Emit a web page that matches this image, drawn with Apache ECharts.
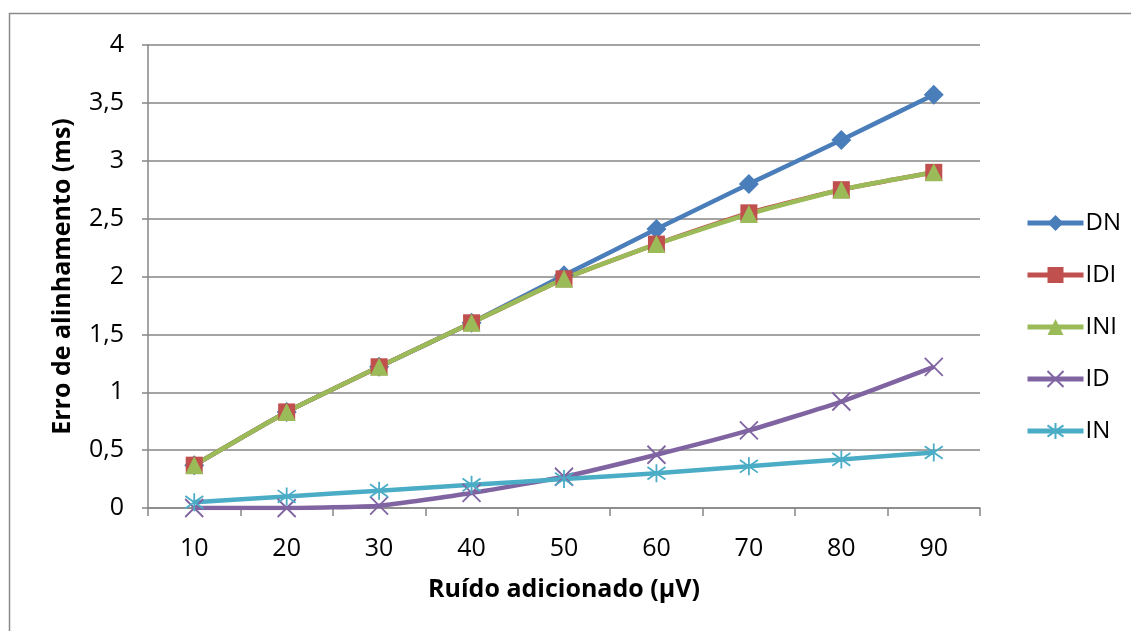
<!DOCTYPE html>
<html>
<head>
<meta charset="utf-8">
<script src="https://cdn.jsdelivr.net/npm/echarts@6/dist/echarts.min.js"></script>
<style>
html,body{margin:0;padding:0;background:#fff;}
#chart{width:1131px;height:631px;}
</style>
</head>
<body>
<div id="chart"></div>
<script>
const categories = ['10','20','30','40','50','60','70','80','90'];
const seriesNames = ['DN','IDI','INI','ID','IN'];
const dnValues  = [0.37, 0.83, 1.22, 1.60, 2.01, 2.41, 2.80, 3.18, 3.57];
const idiValues = [0.37, 0.83, 1.22, 1.60, 1.98, 2.28, 2.55, 2.75, 2.90];
const iniValues = [0.37, 0.83, 1.22, 1.60, 1.98, 2.28, 2.54, 2.75, 2.90];
const idValues  = [0.00, 0.00, 0.02, 0.13, 0.27, 0.46, 0.67, 0.92, 1.22];
const inValues  = [0.05, 0.10, 0.15, 0.20, 0.25, 0.30, 0.36, 0.42, 0.48];

const colors = ['#4A7EBB','#C0504D','#9BBB59','#8064A2','#4BACC6'];
const font = '"Open Sans", "Liberation Sans", sans-serif';

const crossPath = 'path://M0,0L10,10M10,0L0,10';
const starPath = 'path://M5,0L5,10M1.5,1.5L8.5,8.5M8.5,1.5L1.5,8.5';

function mk(name, data, color, symbol, size, stroke) {
  const s = {
    name: name, type: 'line', data: data,
    symbol: symbol, symbolSize: size, smooth: 0.15,
    lineStyle: { color: color, width: 4.5 },
    itemStyle: { color: color },
    emphasis: { disabled: true }
  };
  if (stroke) {
    s.itemStyle = { color: color, borderColor: color, borderWidth: 1.8 };
  }
  return s;
}

const chart = echarts.init(document.getElementById('chart'));
chart.setOption({
  animation: false,
  backgroundColor: '#fff',
  graphic: [{
    type: 'rect', shape: { x: 9.5, y: 13.5, width: 1200, height: 700 },
    style: { fill: 'none', stroke: '#8a8a8a', lineWidth: 1.5 }, silent: true, z: -1
  }],
  grid: { left: 148, right: 151, top: 45, bottom: 123 },
  legend: {
    orient: 'vertical', left: 1020, top: 206,
    itemWidth: 56, itemHeight: 20, itemGap: 28,
    lineStyle: { width: 5 },
    textStyle: { fontFamily: font, fontSize: 24, color: '#000', padding: [0,0,0,-3] },
    data: seriesNames
  },
  xAxis: {
    type: 'category', data: categories, boundaryGap: true,
    name: 'Ruído adicionado (µV)', nameLocation: 'middle', nameGap: 69,
    nameTextStyle: { fontFamily: font, fontSize: 25, fontWeight: 'bold', color: '#000' },
    axisLine: { lineStyle: { color: '#868686', width: 1.5 } },
    axisTick: { show: true, length: 8, lineStyle: { color: '#868686', width: 1.5 } },
    axisLabel: { fontFamily: font, fontSize: 25, color: '#000', margin: 28 }
  },
  yAxis: {
    type: 'value', min: 0, max: 4, interval: 0.5,
    name: 'Erro de alinhamento (ms)', nameLocation: 'middle', nameGap: 73,
    nameTextStyle: { fontFamily: font, fontSize: 25, fontWeight: 'bold', color: '#000' },
    axisLine: { show: true, lineStyle: { color: '#868686', width: 1.5 } },
    axisTick: { show: true, length: 6, lineStyle: { color: '#868686', width: 1.5 } },
    splitLine: { lineStyle: { color: '#868686', width: 1.5 } },
    axisLabel: { fontFamily: font, fontSize: 25, color: '#000', margin: 24,
      formatter: v => String(v).replace('.', ',') }
  },
  series: [
    mk('DN', dnValues, colors[0], 'diamond', 20, false),
    mk('IDI', idiValues, colors[1], 'rect', 17, false),
    mk('INI', iniValues, colors[2], 'triangle', 18, false),
    mk('ID', idValues, colors[3], crossPath, 18, true),
    mk('IN', inValues, colors[4], starPath, 18, true)
  ]
});
</script>
</body>
</html>
